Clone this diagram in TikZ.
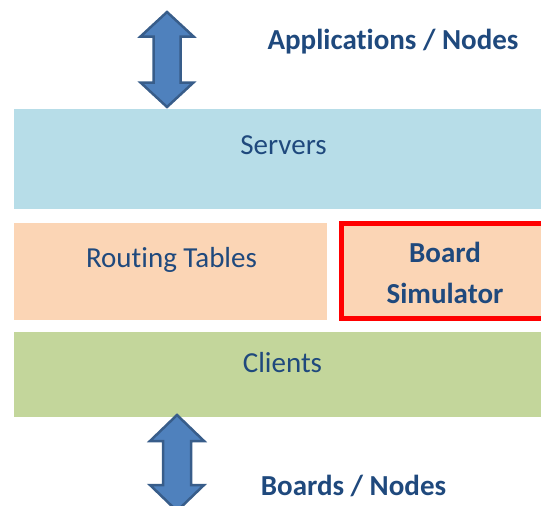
\documentclass[tikz,border=0pt]{standalone}
\usepackage{fontspec}
\setmainfont{Carlito}[Ligatures=NoCommon]
\usetikzlibrary{positioning}

\definecolor{servercol}{HTML}{B7DDE8}
\definecolor{tablecol}{HTML}{FBD5B5}
\definecolor{clientcol}{HTML}{C3D69B}
\definecolor{textcol}{HTML}{1F497D}
\definecolor{arrowfill}{HTML}{4F81BD}
\definecolor{arrowline}{HTML}{385D8A}

\tikzset{
  layer/.style={draw=none,inner sep=0pt,outer sep=0pt,anchor=north west},
  lbl/.style={text=textcol,anchor=base,inner sep=0pt,font=\fontsize{29}{31}\selectfont},
  boldlbl/.style={lbl,font=\fontsize{29}{41}\selectfont\bfseries},
  bigarrow/.style={fill=arrowfill,draw=arrowline,line width=2.5pt,line join=miter}
}

\begin{document}
\begin{tikzpicture}[x=1pt,y=-1pt]
\useasboundingbox (0,0) rectangle (541,506);

% Layers of the stack
\node[layer,fill=servercol,minimum width=527pt,minimum height=100pt] (servers) at (14,109) {};
\node[layer,fill=tablecol,minimum width=313pt,minimum height=97pt] (tables) at (14,223) {};
\node[layer,fill=clientcol,minimum width=527pt,minimum height=85pt] (clients) at (14,332) {};

% Board simulator with red frame, runs off the right edge
\node[layer,fill=tablecol,draw=red,line width=4.5pt,minimum width=204pt,minimum height=95pt] (simulator) at (341.5,223.5) {};

% Labels inside the layers
\node[lbl] (serverstxt) at (283.5,154) {Servers};
\node[lbl] (tablestxt) at (171.5,267) {Routing Tables};
\node[lbl] (clientstxt) at (282.5,372) {Clients};
% base of a two line node is the last line
\node[boldlbl,align=center] (simtxt) at (445,303) {Board\\Simulator};

% Outside labels
\node[boldlbl] (apps) at (393,49) {Applications / Nodes};
\node[boldlbl] (boards) at (353.5,495) {Boards / Nodes};

% Top arrow between applications and servers
\coordinate (A) at (167,12);
\draw[bigarrow] (A) -- +(26.5,24.5) -- +(13.5,24.5) -- +(13.5,70.5) -- +(26.5,70.5) -- +(0,95)
  -- +(-26.5,70.5) -- +(-13.5,70.5) -- +(-13.5,24.5) -- +(-26.5,24.5) -- cycle;

% Bottom arrow between clients and boards
\coordinate (B) at (177,415);
\draw[bigarrow] (B) -- +(27,26) -- +(14,26) -- +(14,70) -- +(27,70) -- +(0,96)
  -- +(-27,70) -- +(-14,70) -- +(-14,26) -- +(-27,26) -- cycle;
\end{tikzpicture}
\end{document}
